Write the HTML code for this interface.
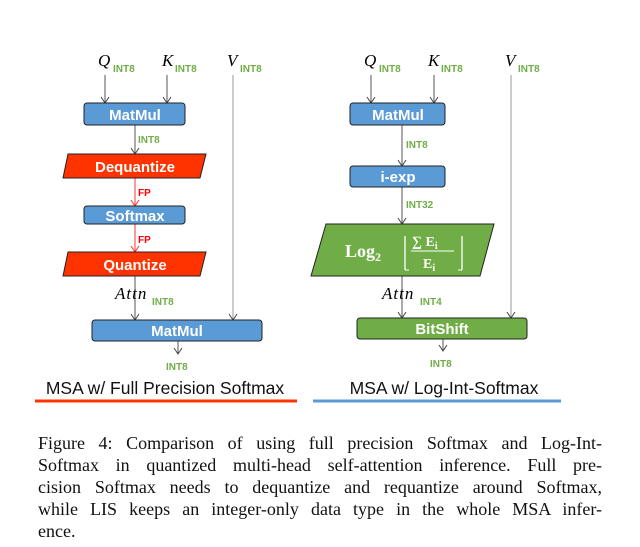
<!DOCTYPE html>
<html><head><style>
body{margin:0;background:#fff;width:640px;height:547px;overflow:hidden;position:relative}
svg{position:absolute;left:0;top:0}
.g{fill:#70ad47;font:bold 10px "Liberation Sans",sans-serif}
.w{fill:#fff;font:bold 15px "Liberation Sans",sans-serif}
.v{font:italic 17px "Liberation Serif",serif}
.cap{position:absolute;left:38px;top:432px;width:564px;font:18px/22px "Liberation Serif",serif;color:#111}
.cap div{text-align:justify;text-align-last:justify;white-space:nowrap}
.cap div.l{text-align-last:left}
</style></head><body>
<svg width="640" height="547">
<defs>
<marker id="a" markerWidth="10" markerHeight="10" refX="9" refY="5" orient="auto" markerUnits="userSpaceOnUse"><path d="M3,1 L9,5 L3,9" fill="none" stroke="#444" stroke-width="1"/></marker>
<marker id="r" markerWidth="10" markerHeight="10" refX="9" refY="5" orient="auto" markerUnits="userSpaceOnUse"><path d="M3,1 L9,5 L3,9" fill="none" stroke="#f33" stroke-width="1"/></marker>
</defs>
<g stroke="#555" stroke-width="1" fill="none">
<line x1="105" y1="75" x2="105" y2="103" marker-end="url(#a)"/>
<line x1="167" y1="75" x2="167" y2="103" marker-end="url(#a)"/>
<line x1="233" y1="75" x2="233" y2="320" stroke="#999" marker-end="url(#a)"/>
<line x1="135" y1="125" x2="135" y2="154" marker-end="url(#a)"/>
<line x1="135" y1="276" x2="135" y2="320" marker-end="url(#a)"/>
<line x1="178" y1="341" x2="178" y2="354" marker-end="url(#a)"/>
<line x1="371" y1="75" x2="371" y2="103" marker-end="url(#a)"/>
<line x1="434" y1="75" x2="434" y2="103" marker-end="url(#a)"/>
<line x1="511" y1="75" x2="511" y2="318" stroke="#999" marker-end="url(#a)"/>
<line x1="402" y1="125" x2="402" y2="166" marker-end="url(#a)"/>
<line x1="402" y1="187" x2="402" y2="224" marker-end="url(#a)"/>
<line x1="402" y1="276" x2="402" y2="318" marker-end="url(#a)"/>
<line x1="443" y1="339" x2="443" y2="351" marker-end="url(#a)"/>
</g>
<g stroke="#f33" fill="none">
<line x1="135" y1="178" x2="135" y2="206" marker-end="url(#r)"/>
<line x1="135" y1="224" x2="135" y2="252" marker-end="url(#r)"/>
</g>
<g stroke="#222" stroke-width="1">
<rect x="84" y="103" width="101" height="22" rx="3" fill="#5b9bd5"/>
<polygon points="68,154 206,154 200,178 63,178" fill="#ff3300"/>
<rect x="84" y="206" width="101" height="18" rx="3" fill="#5b9bd5"/>
<polygon points="68,252 206,252 200,276 63,276" fill="#ff3300"/>
<rect x="92" y="320" width="170" height="21" rx="3" fill="#5b9bd5"/>
<rect x="350" y="103" width="95" height="22" rx="3" fill="#5b9bd5"/>
<rect x="350" y="166" width="95" height="21" rx="3" fill="#5b9bd5"/>
<polygon points="326,224 494,224 480,276 311,276" fill="#70ad47"/>
<rect x="357" y="318" width="170" height="21" rx="3" fill="#70ad47"/>
</g>
<g text-anchor="middle">
<text class="w" x="135" y="120">MatMul</text>
<text class="w" x="135" y="172">Dequantize</text>
<text class="w" x="135" y="221">Softmax</text>
<text class="w" x="135" y="270">Quantize</text>
<text class="w" x="177" y="336">MatMul</text>
<text class="w" x="398" y="120">MatMul</text>
<text class="w" x="398" y="182">i-exp</text>
<text class="w" x="442" y="334">BitShift</text>
</g>
<g fill="#fff" font-family="Liberation Serif,serif" font-weight="bold">
<text x="345" y="257" font-size="18">Log<tspan font-size="12" dy="4">2</tspan></text>
<path d="M405,236 v34 M462,236 v34" stroke="#fff" stroke-width="1.3"/>
<path d="M405,270 h4 M458,270 h4" stroke="#fff"/>
<text x="412" y="246" font-size="14">∑ E<tspan font-size="10" dy="3">i</tspan></text>
<line x1="411" y1="251" x2="454" y2="251" stroke="#fff"/>
<text x="423" y="268" font-size="14">E<tspan font-size="10" dy="3">i</tspan></text>
</g>
<text class="v" x="98" y="66">Q</text><text class="g" x="113" y="72">INT8</text>
<text class="v" x="162" y="66">K</text><text class="g" x="175" y="72">INT8</text>
<text class="v" x="227" y="66">V</text><text class="g" x="240" y="72">INT8</text>
<text class="v" x="364" y="66">Q</text><text class="g" x="379" y="72">INT8</text>
<text class="v" x="428" y="66">K</text><text class="g" x="441" y="72">INT8</text>
<text class="v" x="505" y="66">V</text><text class="g" x="518" y="72">INT8</text>
<text class="g" x="138" y="143">INT8</text>
<text class="g" x="138" y="196" style="fill:#f00">FP</text>
<text class="g" x="138" y="243" style="fill:#f00">FP</text>
<text class="v" x="115" y="299" letter-spacing="1">Attn</text><text class="g" x="152" y="305">INT8</text>
<text class="g" x="166" y="370">INT8</text>
<text class="g" x="406" y="148">INT8</text>
<text class="g" x="406" y="208">INT32</text>
<text class="v" x="382" y="299" letter-spacing="1">Attn</text><text class="g" x="420" y="305">INT4</text>
<text class="g" x="430" y="367">INT8</text>
<g font-family="Liberation Sans,sans-serif" font-size="17.5" text-anchor="middle" fill="#111">
<text x="165" y="394">MSA w/ Full Precision Softmax</text>
<text x="444" y="394">MSA w/ Log-Int-Softmax</text>
</g>
<line x1="35" y1="401" x2="297" y2="401" stroke="#ff3300" stroke-width="3"/>
<line x1="313" y1="401" x2="561" y2="401" stroke="#5b9bd5" stroke-width="3"/>
</svg>
<div class="cap">
<div>Figure 4: Comparison of using full precision Softmax and Log-Int-</div>
<div>Softmax in quantized multi-head self-attention inference. Full pre-</div>
<div>cision Softmax needs to dequantize and requantize around Softmax,</div>
<div>while LIS keeps an integer-only data type in the whole MSA infer-</div>
<div class="l">ence.</div>
</div>
</body></html>
